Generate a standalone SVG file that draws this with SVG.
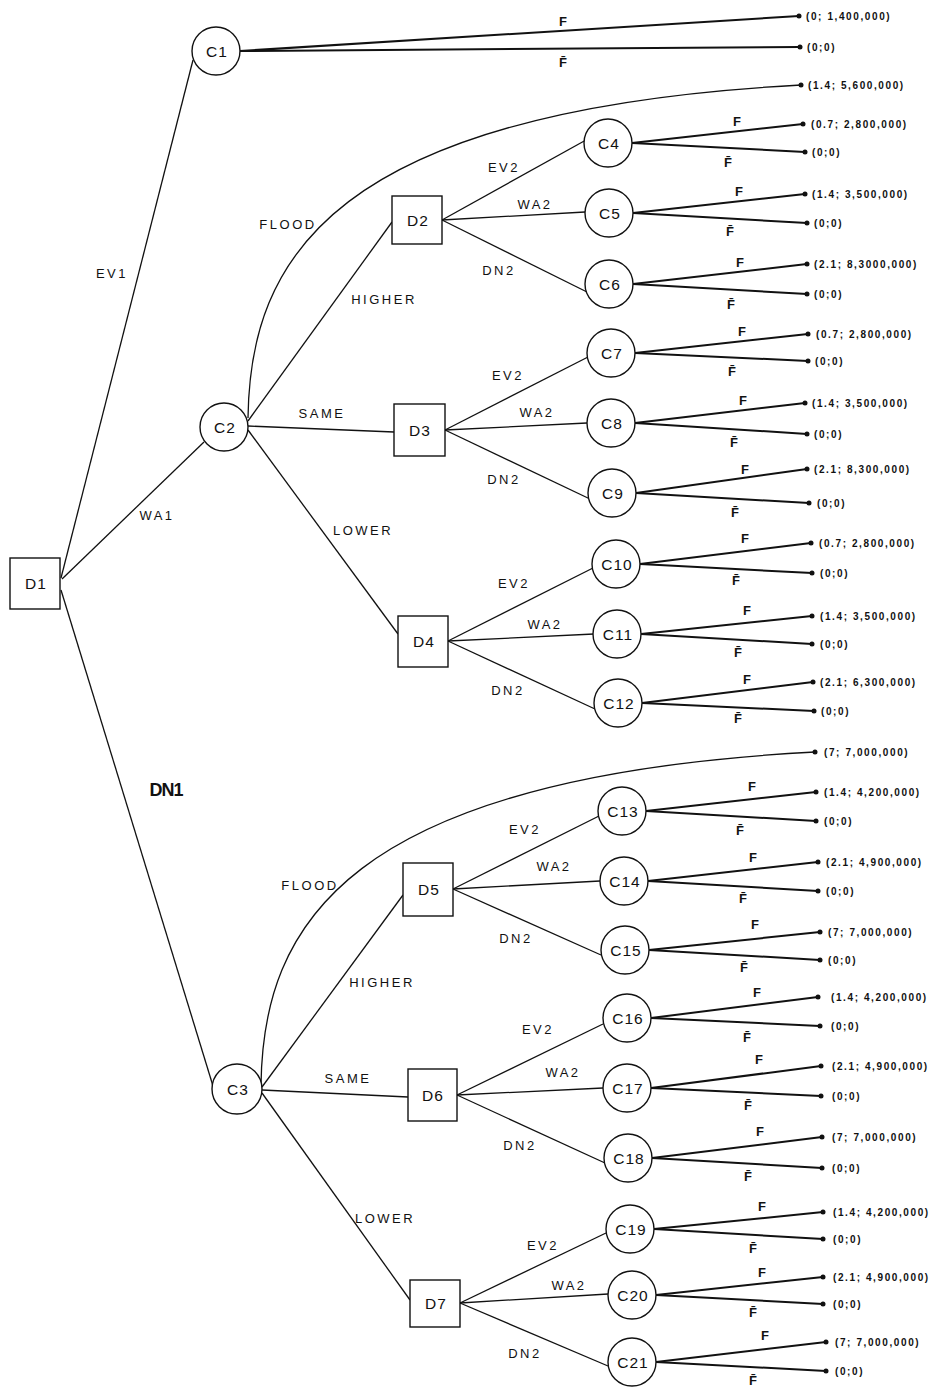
<svg xmlns="http://www.w3.org/2000/svg" width="938" height="1388" viewBox="0 0 938 1388">
<style>
.n{fill:#fff;stroke:#111;stroke-width:1.4}
.e{fill:none;stroke:#111;stroke-width:1.3}
.o{fill:none;stroke:#111;stroke-width:2}
.d{fill:#111}
.nl{font-family:"Liberation Sans",Arial,sans-serif;font-size:15.5px;fill:#111;text-anchor:middle;dominant-baseline:central;letter-spacing:1px}
.el{font-family:"Liberation Sans",Arial,sans-serif;font-size:13px;fill:#111;text-anchor:middle;dominant-baseline:central;letter-spacing:2.5px}
.fl{font-family:"Liberation Sans",Arial,sans-serif;font-size:13px;font-weight:bold;fill:#111;text-anchor:middle;dominant-baseline:central}
.vl{font-family:"Liberation Sans",Arial,sans-serif;font-size:10px;font-weight:bold;fill:#111;dominant-baseline:central;letter-spacing:1.6px}
.big{font-family:"Liberation Sans",Arial,sans-serif;font-size:18px;font-weight:bold;fill:#111;text-anchor:middle;dominant-baseline:central;letter-spacing:-1px}
</style>
<g id="connectors">
<line class="e" x1="61" y1="578" x2="193" y2="60"/>
<line class="e" x1="62" y1="579" x2="204" y2="442"/>
<line class="e" x1="61" y1="590" x2="213" y2="1086"/>
<line class="o" x1="240" y1="51" x2="799" y2="16"/>
<line class="o" x1="240" y1="51" x2="800" y2="47"/>
<path class="e" d="M248,418 C250,260 330,110 801,85"/>
<line class="e" x1="248" y1="421" x2="392" y2="222"/>
<line class="e" x1="248" y1="426" x2="394" y2="432"/>
<line class="e" x1="248" y1="430" x2="398" y2="634"/>
<line class="e" x1="442" y1="220" x2="586" y2="140"/>
<line class="e" x1="442" y1="220" x2="585" y2="212"/>
<line class="e" x1="442" y1="220" x2="587" y2="292"/>
<line class="e" x1="445" y1="430" x2="588" y2="357"/>
<line class="e" x1="445" y1="430" x2="587" y2="423"/>
<line class="e" x1="445" y1="430" x2="590" y2="499"/>
<line class="e" x1="448" y1="641" x2="593" y2="568"/>
<line class="e" x1="448" y1="641" x2="594" y2="634"/>
<line class="e" x1="448" y1="641" x2="595" y2="709"/>
<path class="e" d="M261,1085 C263,927 343,777 815,752"/>
<line class="e" x1="262" y1="1087" x2="403" y2="895"/>
<line class="e" x1="262" y1="1090" x2="408" y2="1097"/>
<line class="e" x1="262" y1="1093" x2="410" y2="1300"/>
<line class="e" x1="453" y1="889" x2="599" y2="816"/>
<line class="e" x1="453" y1="889" x2="600" y2="881"/>
<line class="e" x1="453" y1="889" x2="601" y2="955"/>
<line class="e" x1="457" y1="1095" x2="603" y2="1024"/>
<line class="e" x1="457" y1="1095" x2="603" y2="1088"/>
<line class="e" x1="457" y1="1095" x2="605" y2="1163"/>
<line class="e" x1="460" y1="1303" x2="606" y2="1233"/>
<line class="e" x1="460" y1="1303" x2="608" y2="1294"/>
<line class="e" x1="460" y1="1303" x2="608" y2="1366"/>
<line class="o" x1="632" y1="143" x2="803" y2="124"/><line class="o" x1="632" y1="143" x2="805" y2="152"/>
<line class="o" x1="633" y1="213" x2="805" y2="194"/><line class="o" x1="633" y1="213" x2="807" y2="223"/>
<line class="o" x1="633" y1="284" x2="807" y2="264"/><line class="o" x1="633" y1="284" x2="807" y2="294"/>
<line class="o" x1="635" y1="353" x2="808" y2="334"/><line class="o" x1="635" y1="353" x2="808" y2="361"/>
<line class="o" x1="635" y1="423" x2="805" y2="403"/><line class="o" x1="635" y1="423" x2="807" y2="434"/>
<line class="o" x1="636" y1="493" x2="807" y2="469"/><line class="o" x1="636" y1="493" x2="809" y2="503"/>
<line class="o" x1="640" y1="564" x2="811" y2="543"/><line class="o" x1="640" y1="564" x2="812" y2="573"/>
<line class="o" x1="641" y1="634" x2="812" y2="616"/><line class="o" x1="641" y1="634" x2="812" y2="644"/>
<line class="o" x1="642" y1="703" x2="813" y2="682"/><line class="o" x1="642" y1="703" x2="814" y2="711"/>
<line class="o" x1="646" y1="811" x2="816" y2="792"/><line class="o" x1="646" y1="811" x2="816" y2="821"/>
<line class="o" x1="648" y1="881" x2="818" y2="862"/><line class="o" x1="648" y1="881" x2="818" y2="891"/>
<line class="o" x1="649" y1="950" x2="820" y2="932"/><line class="o" x1="649" y1="950" x2="820" y2="960"/>
<line class="o" x1="651" y1="1018" x2="818" y2="997"/><line class="o" x1="651" y1="1018" x2="820" y2="1026"/>
<line class="o" x1="651" y1="1088" x2="821" y2="1066"/><line class="o" x1="651" y1="1088" x2="821" y2="1096"/>
<line class="o" x1="652" y1="1158" x2="822" y2="1137"/><line class="o" x1="652" y1="1158" x2="822" y2="1168"/>
<line class="o" x1="654" y1="1229" x2="823" y2="1212"/><line class="o" x1="654" y1="1229" x2="823" y2="1239"/>
<line class="o" x1="656" y1="1295" x2="823" y2="1277"/><line class="o" x1="656" y1="1295" x2="823" y2="1304"/>
<line class="o" x1="656" y1="1362" x2="826" y2="1342"/><line class="o" x1="656" y1="1362" x2="826" y2="1371"/>
</g>
<g id="edge-labels">
<text class="el" x="112" y="273">EV1</text>
<text class="el" x="157" y="515">WA1</text>
<text class="big" x="166" y="790">DN1</text>
<text class="fl" x="563" y="21">F</text>
<text class="fl" x="563" y="62">F̄</text>
<text class="el" x="288" y="224">FLOOD</text>
<text class="el" x="384" y="299">HIGHER</text>
<text class="el" x="322" y="413">SAME</text>
<text class="el" x="363" y="530">LOWER</text>
<text class="el" x="504" y="167">EV2</text><text class="el" x="535" y="204">WA2</text><text class="el" x="499" y="270">DN2</text>
<text class="el" x="508" y="375">EV2</text><text class="el" x="537" y="412">WA2</text><text class="el" x="504" y="479">DN2</text>
<text class="el" x="514" y="583">EV2</text><text class="el" x="545" y="624">WA2</text><text class="el" x="508" y="690">DN2</text>
<text class="el" x="310" y="885">FLOOD</text>
<text class="el" x="382" y="982">HIGHER</text>
<text class="el" x="348" y="1078">SAME</text>
<text class="el" x="385" y="1218">LOWER</text>
<text class="el" x="525" y="829">EV2</text><text class="el" x="554" y="866">WA2</text><text class="el" x="516" y="938">DN2</text>
<text class="el" x="538" y="1029">EV2</text><text class="el" x="563" y="1072">WA2</text><text class="el" x="520" y="1145">DN2</text>
<text class="el" x="543" y="1245">EV2</text><text class="el" x="569" y="1285">WA2</text><text class="el" x="525" y="1353">DN2</text>
<text class="fl" x="737" y="121">F</text><text class="fl" x="728" y="162">F̄</text>
<text class="fl" x="739" y="191">F</text><text class="fl" x="730" y="231">F̄</text>
<text class="fl" x="740" y="262">F</text><text class="fl" x="731" y="304">F̄</text>
<text class="fl" x="742" y="331">F</text><text class="fl" x="732" y="371">F̄</text>
<text class="fl" x="743" y="400">F</text><text class="fl" x="734" y="442">F̄</text>
<text class="fl" x="745" y="469">F</text><text class="fl" x="735" y="512">F̄</text>
<text class="fl" x="745" y="538">F</text><text class="fl" x="736" y="580">F̄</text>
<text class="fl" x="747" y="610">F</text><text class="fl" x="738" y="652">F̄</text>
<text class="fl" x="747" y="679">F</text><text class="fl" x="738" y="718">F̄</text>
<text class="fl" x="752" y="786">F</text><text class="fl" x="740" y="830">F̄</text>
<text class="fl" x="753" y="857">F</text><text class="fl" x="743" y="898">F̄</text>
<text class="fl" x="755" y="924">F</text><text class="fl" x="744" y="967">F̄</text>
<text class="fl" x="757" y="992">F</text><text class="fl" x="747" y="1037">F̄</text>
<text class="fl" x="759" y="1059">F</text><text class="fl" x="748" y="1105">F̄</text>
<text class="fl" x="760" y="1131">F</text><text class="fl" x="748" y="1176">F̄</text>
<text class="fl" x="762" y="1206">F</text><text class="fl" x="753" y="1248">F̄</text>
<text class="fl" x="762" y="1272">F</text><text class="fl" x="753" y="1312">F̄</text>
<text class="fl" x="765" y="1335">F</text><text class="fl" x="753" y="1380">F̄</text>
</g>
<g id="outcomes">
<circle class="d" cx="799" cy="16" r="2.5"/><text class="vl" x="806" y="16">(0; 1,400,000)</text>
<circle class="d" cx="800" cy="47" r="2.5"/><text class="vl" x="807" y="47">(0;0)</text>
<circle class="d" cx="801" cy="85" r="2.5"/><text class="vl" x="808" y="85">(1.4; 5,600,000)</text>
<circle class="d" cx="803" cy="124" r="2.5"/><text class="vl" x="811" y="124">(0.7; 2,800,000)</text>
<circle class="d" cx="805" cy="152" r="2.5"/><text class="vl" x="812" y="152">(0;0)</text>
<circle class="d" cx="805" cy="194" r="2.5"/><text class="vl" x="812" y="194">(1.4; 3,500,000)</text>
<circle class="d" cx="807" cy="223" r="2.5"/><text class="vl" x="814" y="223">(0;0)</text>
<circle class="d" cx="807" cy="264" r="2.5"/><text class="vl" x="814" y="264">(2.1; 8,3000,000)</text>
<circle class="d" cx="807" cy="294" r="2.5"/><text class="vl" x="814" y="294">(0;0)</text>
<circle class="d" cx="808" cy="334" r="2.5"/><text class="vl" x="816" y="334">(0.7; 2,800,000)</text>
<circle class="d" cx="808" cy="361" r="2.5"/><text class="vl" x="815" y="361">(0;0)</text>
<circle class="d" cx="805" cy="403" r="2.5"/><text class="vl" x="812" y="403">(1.4; 3,500,000)</text>
<circle class="d" cx="807" cy="434" r="2.5"/><text class="vl" x="814" y="434">(0;0)</text>
<circle class="d" cx="807" cy="469" r="2.5"/><text class="vl" x="814" y="469">(2.1; 8,300,000)</text>
<circle class="d" cx="809" cy="503" r="2.5"/><text class="vl" x="817" y="503">(0;0)</text>
<circle class="d" cx="811" cy="543" r="2.5"/><text class="vl" x="819" y="543">(0.7; 2,800,000)</text>
<circle class="d" cx="812" cy="573" r="2.5"/><text class="vl" x="820" y="573">(0;0)</text>
<circle class="d" cx="812" cy="616" r="2.5"/><text class="vl" x="820" y="616">(1.4; 3,500,000)</text>
<circle class="d" cx="812" cy="644" r="2.5"/><text class="vl" x="820" y="644">(0;0)</text>
<circle class="d" cx="813" cy="682" r="2.5"/><text class="vl" x="820" y="682">(2.1; 6,300,000)</text>
<circle class="d" cx="814" cy="711" r="2.5"/><text class="vl" x="821" y="711">(0;0)</text>
<circle class="d" cx="815" cy="752" r="2.5"/><text class="vl" x="824" y="752">(7; 7,000,000)</text>
<circle class="d" cx="816" cy="792" r="2.5"/><text class="vl" x="824" y="792">(1.4; 4,200,000)</text>
<circle class="d" cx="816" cy="821" r="2.5"/><text class="vl" x="824" y="821">(0;0)</text>
<circle class="d" cx="818" cy="862" r="2.5"/><text class="vl" x="826" y="862">(2.1; 4,900,000)</text>
<circle class="d" cx="818" cy="891" r="2.5"/><text class="vl" x="826" y="891">(0;0)</text>
<circle class="d" cx="820" cy="932" r="2.5"/><text class="vl" x="828" y="932">(7; 7,000,000)</text>
<circle class="d" cx="820" cy="960" r="2.5"/><text class="vl" x="828" y="960">(0;0)</text>
<circle class="d" cx="818" cy="997" r="2.5"/><text class="vl" x="831" y="997">(1.4; 4,200,000)</text>
<circle class="d" cx="820" cy="1026" r="2.5"/><text class="vl" x="831" y="1026">(0;0)</text>
<circle class="d" cx="821" cy="1066" r="2.5"/><text class="vl" x="832" y="1066">(2.1; 4,900,000)</text>
<circle class="d" cx="821" cy="1096" r="2.5"/><text class="vl" x="832" y="1096">(0;0)</text>
<circle class="d" cx="822" cy="1137" r="2.5"/><text class="vl" x="832" y="1137">(7; 7,000,000)</text>
<circle class="d" cx="822" cy="1168" r="2.5"/><text class="vl" x="832" y="1168">(0;0)</text>
<circle class="d" cx="823" cy="1212" r="2.5"/><text class="vl" x="833" y="1212">(1.4; 4,200,000)</text>
<circle class="d" cx="823" cy="1239" r="2.5"/><text class="vl" x="833" y="1239">(0;0)</text>
<circle class="d" cx="823" cy="1277" r="2.5"/><text class="vl" x="833" y="1277">(2.1; 4,900,000)</text>
<circle class="d" cx="823" cy="1304" r="2.5"/><text class="vl" x="833" y="1304">(0;0)</text>
<circle class="d" cx="826" cy="1342" r="2.5"/><text class="vl" x="835" y="1342">(7; 7,000,000)</text>
<circle class="d" cx="826" cy="1371" r="2.5"/><text class="vl" x="835" y="1371">(0;0)</text>
</g>
<g id="D1"><rect class="n" x="10" y="558" width="50" height="51"/><text class="nl" x="36" y="583">D1</text></g>
<g id="C1"><circle class="n" cx="216" cy="51" r="24"/><text class="nl" x="217" y="51">C1</text></g>
<g id="C2"><circle class="n" cx="224" cy="427" r="24"/><text class="nl" x="225" y="427">C2</text></g>
<g id="C3"><circle class="n" cx="237" cy="1089" r="25"/><text class="nl" x="238" y="1089">C3</text></g>
<g id="D2"><rect class="n" x="392" y="196" width="50" height="48"/><text class="nl" x="418" y="220">D2</text></g>
<g id="D3"><rect class="n" x="394" y="404" width="51" height="52"/><text class="nl" x="420" y="430">D3</text></g>
<g id="D4"><rect class="n" x="398" y="616" width="50" height="51"/><text class="nl" x="424" y="641">D4</text></g>
<g id="D5"><rect class="n" x="403" y="863" width="50" height="53"/><text class="nl" x="429" y="889">D5</text></g>
<g id="D6"><rect class="n" x="408" y="1069" width="49" height="52"/><text class="nl" x="433" y="1095">D6</text></g>
<g id="D7"><rect class="n" x="410" y="1280" width="50" height="47"/><text class="nl" x="436" y="1303">D7</text></g>
<g id="C4"><circle class="n" cx="608" cy="143" r="24"/><text class="nl" x="609" y="143">C4</text></g>
<g id="C5"><circle class="n" cx="609" cy="213" r="24"/><text class="nl" x="610" y="213">C5</text></g>
<g id="C6"><circle class="n" cx="609" cy="284" r="24"/><text class="nl" x="610" y="284">C6</text></g>
<g id="C7"><circle class="n" cx="611" cy="353" r="24"/><text class="nl" x="612" y="353">C7</text></g>
<g id="C8"><circle class="n" cx="611" cy="423" r="24"/><text class="nl" x="612" y="423">C8</text></g>
<g id="C9"><circle class="n" cx="612" cy="493" r="24"/><text class="nl" x="613" y="493">C9</text></g>
<g id="C10"><circle class="n" cx="616" cy="564" r="24"/><text class="nl" x="617" y="564">C10</text></g>
<g id="C11"><circle class="n" cx="617" cy="634" r="24"/><text class="nl" x="618" y="634">C11</text></g>
<g id="C12"><circle class="n" cx="618" cy="703" r="24"/><text class="nl" x="619" y="703">C12</text></g>
<g id="C13"><circle class="n" cx="622" cy="811" r="24"/><text class="nl" x="623" y="811">C13</text></g>
<g id="C14"><circle class="n" cx="624" cy="881" r="24"/><text class="nl" x="625" y="881">C14</text></g>
<g id="C15"><circle class="n" cx="625" cy="950" r="24"/><text class="nl" x="626" y="950">C15</text></g>
<g id="C16"><circle class="n" cx="627" cy="1018" r="24"/><text class="nl" x="628" y="1018">C16</text></g>
<g id="C17"><circle class="n" cx="627" cy="1088" r="24"/><text class="nl" x="628" y="1088">C17</text></g>
<g id="C18"><circle class="n" cx="628" cy="1158" r="24"/><text class="nl" x="629" y="1158">C18</text></g>
<g id="C19"><circle class="n" cx="630" cy="1229" r="24"/><text class="nl" x="631" y="1229">C19</text></g>
<g id="C20"><circle class="n" cx="632" cy="1295" r="24"/><text class="nl" x="633" y="1295">C20</text></g>
<g id="C21"><circle class="n" cx="632" cy="1362" r="24"/><text class="nl" x="633" y="1362">C21</text></g>
</svg>
